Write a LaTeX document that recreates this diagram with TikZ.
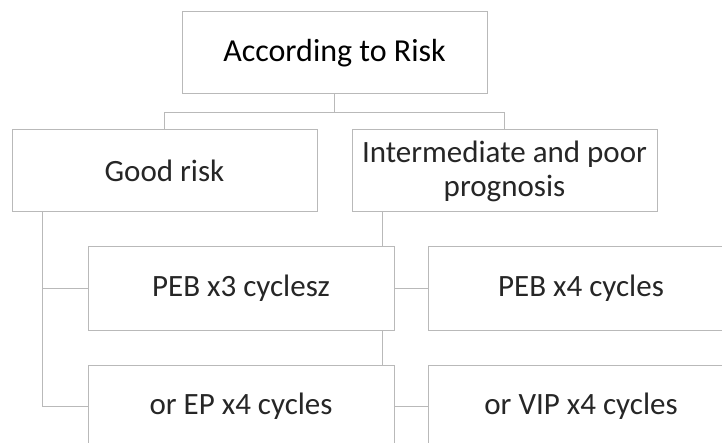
\documentclass[tikz,border=0pt]{standalone}
\usepackage{fontspec}
\setmainfont{Carlito}
\usetikzlibrary{backgrounds,calc}
\definecolor{linegray}{RGB}{185,185,185}
\tikzset{
  box/.style={draw=linegray, line width=1pt, fill=white, minimum width=305pt, minimum height=82pt,
    inner sep=0pt, align=center, font=\fontsize{31}{34}\selectfont, text=black!85},
  conn/.style={draw=linegray, line width=1pt}
}
\begin{document}
\begin{tikzpicture}[x=1pt,y=-1pt]
\useasboundingbox (0,0) rectangle (722,443);
\clip (0,0) rectangle (722,443);
\node[box, text=black, font=\fontsize{32}{36}\selectfont] (top) at (334.5,53) {According to Risk};
\node[box] (good) at (164.5,171) {Good risk};
\node[box] (inter) at (504.5,171) {Intermediate and poor\\prognosis};
\node[box, minimum width=306pt, minimum height=83pt] (peb3) at (241,288.5) {PEB x3 cyclesz};
\node[box, minimum width=306pt, minimum height=83pt] (ep) at (241,406.5) {or EP x4 cycles};
\node[box, minimum width=306pt, minimum height=83pt] (peb4) at (581,288.5) {PEB x4 cycles};
\node[box, minimum width=306pt, minimum height=83pt] (vip) at (581,406.5) {or VIP x4 cycles};
\begin{pgfonlayer}{background}
\coordinate (hub) at ($(top.south)+(0,18)$);
\draw[conn] (top.south) -- (hub);
\draw[conn] (hub) -| (good.north);
\draw[conn] (hub) -| (inter.north);
\coordinate (gtrunk) at ($(good.south west)+(31,0)$);
\draw[conn] (gtrunk) |- (peb3.west);
\draw[conn] (gtrunk) |- (ep.west);
\coordinate (itrunk) at ($(inter.south west)+(31,0)$);
\draw[conn] (itrunk) |- (peb4.west);
\draw[conn] (itrunk) |- (vip.west);
\end{pgfonlayer}
\end{tikzpicture}
\end{document}
